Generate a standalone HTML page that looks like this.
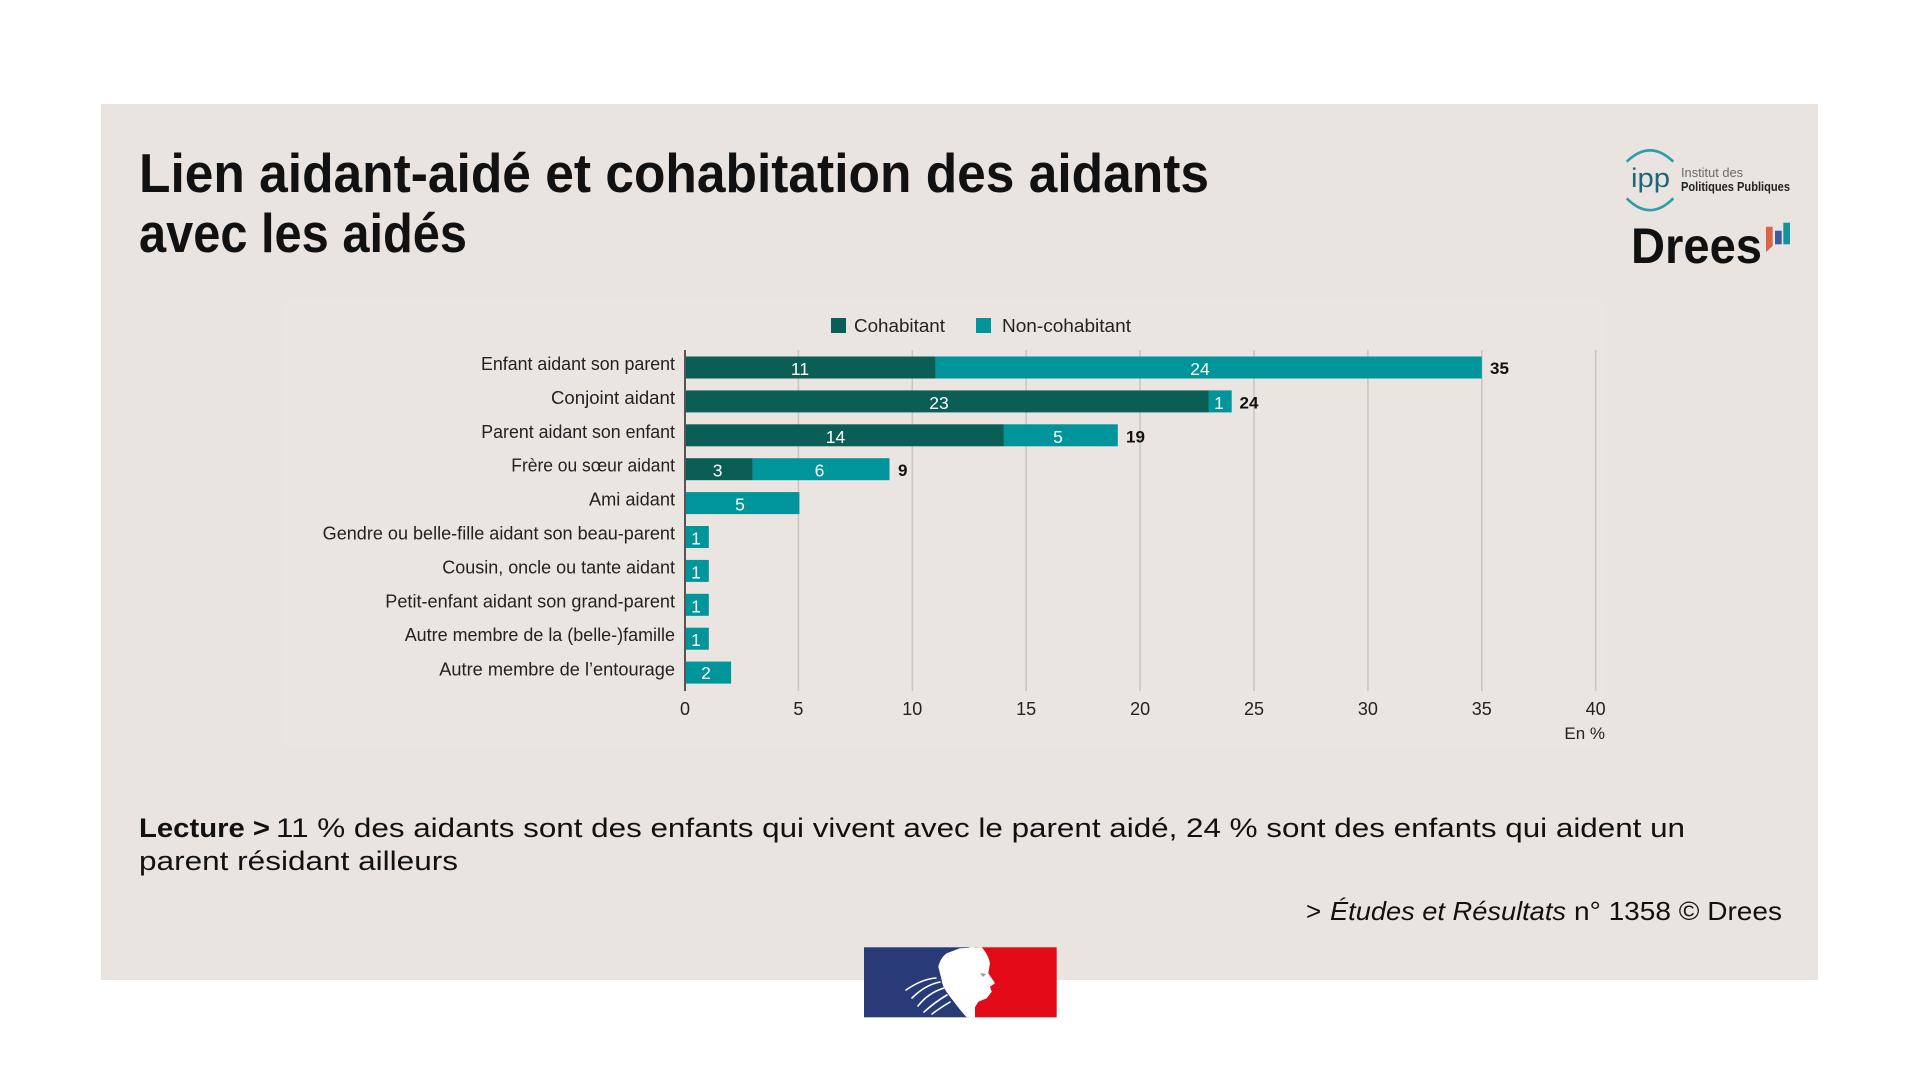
<!DOCTYPE html>
<html>
<head>
<meta charset="utf-8">
<style>
  html,body{margin:0;padding:0;background:#ffffff;}
  svg{display:block;}
  text{font-family:"Liberation Sans", Arial, sans-serif;}
</style>
</head>
<body>
<svg width="1920" height="1085" viewBox="0 0 1920 1085" xmlns="http://www.w3.org/2000/svg">
  <rect x="0" y="0" width="1920" height="1085" fill="#ffffff"/>
  <!-- panel -->
  <rect x="101" y="104" width="1717" height="876" fill="#eae4e0"/>
  <!-- faint chart container -->
  <rect x="283" y="300" width="1322" height="447" fill="#ebe5e1"/>

  <!-- Title -->
  <text x="139" y="192" font-size="55" font-weight="bold" fill="#111" textLength="1070" lengthAdjust="spacingAndGlyphs">Lien aidant-aidé et cohabitation des aidants</text>
  <text x="139" y="252" font-size="55" font-weight="bold" fill="#111" textLength="328" lengthAdjust="spacingAndGlyphs">avec les aidés</text>

  <!-- ipp logo -->
  <path d="M1626.7,161.7 Q1650,139 1673.3,161.7" fill="none" stroke="#2a9fa8" stroke-width="2.6"/>
  <path d="M1626.7,198.3 Q1650,222 1673.3,198.3" fill="none" stroke="#2a9fa8" stroke-width="2.6"/>
  <text x="1631" y="187" font-size="27" fill="#1f6678" textLength="39" lengthAdjust="spacingAndGlyphs">ipp</text>
  <text x="1681" y="177" font-size="12.5" fill="#6a6a6a" textLength="62" lengthAdjust="spacingAndGlyphs">Institut des</text>
  <text x="1681" y="191" font-size="13" font-weight="bold" fill="#222" textLength="109" lengthAdjust="spacingAndGlyphs">Politiques Publiques</text>

  <!-- Drees logo -->
  <text x="1631" y="263" font-size="50" font-weight="bold" fill="#111" textLength="131" lengthAdjust="spacingAndGlyphs">Drees</text>
  <polygon points="1766,226.7 1772.7,226.7 1772.7,246 1766,252" fill="#d9644a"/>
  <rect x="1775" y="230.7" width="6.7" height="13.6" fill="#3a5ba0"/>
  <rect x="1783.3" y="222.7" width="6.7" height="21.6" fill="#12939b"/>

  <!-- Legend -->
  <rect x="831" y="318" width="15" height="15" fill="#0a5e56"/>
  <text x="854" y="332" font-size="18" fill="#222" textLength="91" lengthAdjust="spacingAndGlyphs">Cohabitant</text>
  <rect x="976" y="318" width="15" height="15" fill="#00949b"/>
  <text x="1002" y="332" font-size="18" fill="#222" textLength="129" lengthAdjust="spacingAndGlyphs">Non-cohabitant</text>

  <!-- Gridlines -->
  <g stroke="#c9c6c3" stroke-width="1.6">
    <line x1="798.4" y1="350" x2="798.4" y2="691"/>
    <line x1="912.3" y1="350" x2="912.3" y2="691"/>
    <line x1="1026.2" y1="350" x2="1026.2" y2="691"/>
    <line x1="1140.1" y1="350" x2="1140.1" y2="691"/>
    <line x1="1254" y1="350" x2="1254" y2="691"/>
    <line x1="1367.9" y1="350" x2="1367.9" y2="691"/>
    <line x1="1481.8" y1="350" x2="1481.8" y2="691"/>
    <line x1="1595.7" y1="350" x2="1595.7" y2="691"/>
  </g>

  <!-- Bars -->
  <rect x="685.5" y="356.5" width="250.1" height="22" fill="#0a5e56"/>
  <rect x="935.6" y="356.5" width="546.2" height="22" fill="#00949b"/>
  <rect x="685.5" y="390.4" width="523.4" height="22" fill="#0a5e56"/>
  <rect x="1208.9" y="390.4" width="22.8" height="22" fill="#00949b"/>
  <rect x="685.5" y="424.3" width="318.4" height="22" fill="#0a5e56"/>
  <rect x="1003.9" y="424.3" width="113.9" height="22" fill="#00949b"/>
  <rect x="685.5" y="458.2" width="67.3" height="22" fill="#0a5e56"/>
  <rect x="752.8" y="458.2" width="136.7" height="22" fill="#00949b"/>
  <rect x="685.5" y="492.1" width="113.9" height="22" fill="#00949b"/>
  <rect x="685.5" y="526" width="23.3" height="22" fill="#00949b"/>
  <rect x="685.5" y="559.9" width="23.3" height="22" fill="#00949b"/>
  <rect x="685.5" y="593.8" width="23.3" height="22" fill="#00949b"/>
  <rect x="685.5" y="627.7" width="23.3" height="22" fill="#00949b"/>
  <rect x="685.5" y="661.6" width="45.6" height="22" fill="#00949b"/>

  <!-- Axis line -->
  <line x1="685" y1="350" x2="685" y2="691" stroke="#555" stroke-width="2"/>

  <!-- Value labels (white) -->
  <g font-size="17.5" fill="#ffffff" text-anchor="middle">
    <text x="800" y="375">11</text>
    <text x="1200" y="375">24</text>
    <text x="939" y="409">23</text>
    <text x="1219" y="409">1</text>
    <text x="835.5" y="443">14</text>
    <text x="1058" y="443">5</text>
    <text x="717.6" y="476.5">3</text>
    <text x="819.5" y="476.5">6</text>
    <text x="740" y="510.5">5</text>
    <text x="696" y="544.5">1</text>
    <text x="696" y="578.5">1</text>
    <text x="696" y="612.5">1</text>
    <text x="696" y="646">1</text>
    <text x="706" y="679">2</text>
  </g>

  <!-- Totals (bold) -->
  <g font-size="17" font-weight="bold" fill="#111">
    <text x="1490" y="374">35</text>
    <text x="1239.5" y="408.5">24</text>
    <text x="1126" y="442.5">19</text>
    <text x="898" y="476">9</text>
  </g>

  <!-- Category labels -->
  <g font-size="18" fill="#222">
    <text x="481" y="370" textLength="194" lengthAdjust="spacingAndGlyphs">Enfant aidant son parent</text>
    <text x="551" y="404" textLength="124" lengthAdjust="spacingAndGlyphs">Conjoint aidant</text>
    <text x="481.3" y="438" textLength="193.7" lengthAdjust="spacingAndGlyphs">Parent aidant son enfant</text>
    <text x="511.3" y="471.7" textLength="163.7" lengthAdjust="spacingAndGlyphs">Frère ou sœur aidant</text>
    <text x="589" y="505.6" textLength="86" lengthAdjust="spacingAndGlyphs">Ami aidant</text>
    <text x="322.7" y="539.5" textLength="352.3" lengthAdjust="spacingAndGlyphs">Gendre ou belle-fille aidant son beau-parent</text>
    <text x="442.3" y="573.4" textLength="232.7" lengthAdjust="spacingAndGlyphs">Cousin, oncle ou tante aidant</text>
    <text x="385.3" y="607.3" textLength="289.7" lengthAdjust="spacingAndGlyphs">Petit-enfant aidant son grand-parent</text>
    <text x="404.7" y="641.2" textLength="270.3" lengthAdjust="spacingAndGlyphs">Autre membre de la (belle-)famille</text>
    <text x="439.3" y="675.5" textLength="235.7" lengthAdjust="spacingAndGlyphs">Autre membre de l’entourage</text>
  </g>

  <!-- Tick labels -->
  <g font-size="18" fill="#222" text-anchor="middle">
    <text x="685" y="715">0</text>
    <text x="798.4" y="715">5</text>
    <text x="912.3" y="715">10</text>
    <text x="1026.2" y="715">15</text>
    <text x="1140.1" y="715">20</text>
    <text x="1254" y="715">25</text>
    <text x="1367.9" y="715">30</text>
    <text x="1481.8" y="715">35</text>
    <text x="1595.7" y="715">40</text>
  </g>
  <text x="1605" y="739" font-size="17" fill="#222" text-anchor="end">En %</text>

  <!-- Lecture -->
  <text x="139" y="837" font-size="27" font-weight="bold" fill="#111" textLength="131" lengthAdjust="spacingAndGlyphs">Lecture &gt;</text>
  <text x="276" y="837" font-size="27" fill="#111" textLength="1409" lengthAdjust="spacingAndGlyphs">11 % des aidants sont des enfants qui vivent avec le parent aidé, 24 % sont des enfants qui aident un</text>
  <text x="139" y="870" font-size="27" fill="#111" textLength="319" lengthAdjust="spacingAndGlyphs">parent résidant ailleurs</text>

  <!-- Source -->
  <text x="1306" y="920" font-size="26" fill="#111">&gt;</text>
  <text x="1330" y="920" font-size="26" font-style="italic" fill="#111" textLength="236" lengthAdjust="spacingAndGlyphs">Études et Résultats</text>
  <text x="1574" y="920" font-size="26" fill="#111" textLength="208" lengthAdjust="spacingAndGlyphs">n° 1358 © Drees</text>

  <!-- Marianne flag logo -->
  <rect x="864" y="947.3" width="105" height="70" fill="#283a78"/>
  <rect x="975" y="947.3" width="81.7" height="70" fill="#e30b17"/>
  <path d="M960,948.3 L981.7,947.3 C986,952 989,958 990,963.3 L988.3,973.3 L995,983.3 L990,986.7 L991.7,991.7 L986.7,998.3 L978.3,1001.7 L973.3,1010 L971.7,1017.3 L966.7,1017.3 C960,1010 955,1003 950,996.7 C945,990 942,985 941.7,980 L938.3,966.7 C940,960 943,956 946.7,953.3 Z" fill="#ffffff"/>
  <g stroke="#ffffff" stroke-width="1.6" fill="none" stroke-linecap="round">
    <path d="M940,982 Q925,985 912,998"/>
    <path d="M944,988 Q928,993 918,1006"/>
    <path d="M947,995 Q935,1002 924,1012"/>
    <path d="M936,978 Q922,979 906,990"/>
    <path d="M950,1002 Q940,1008 932,1014"/>
  </g>
  <path d="M980,973 L986,974 L983,977 Z" fill="#9a9a9a"/>
</svg>
</body>
</html>
